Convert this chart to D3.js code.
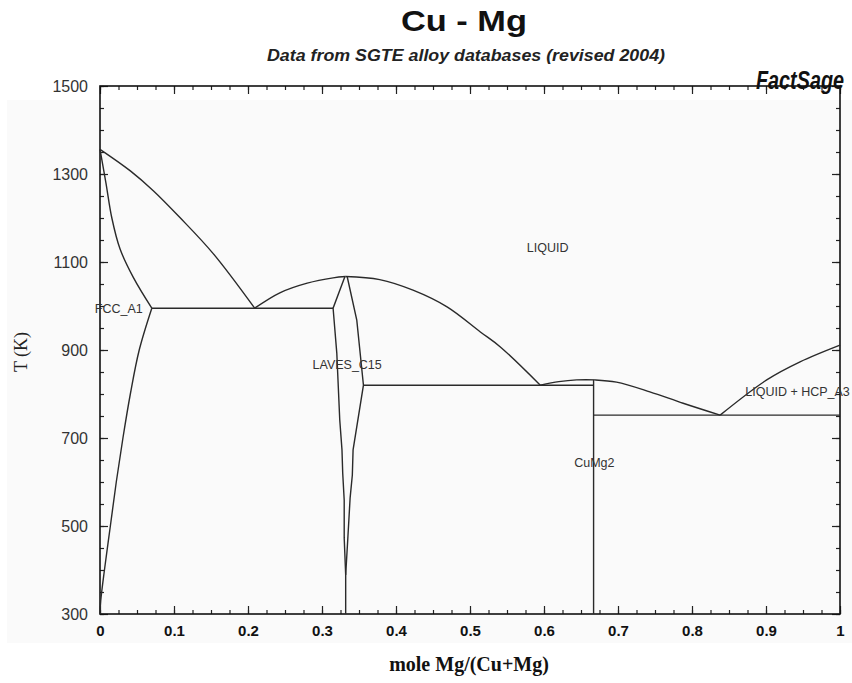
<!DOCTYPE html>
<html>
<head>
<meta charset="utf-8">
<script src="https://cdn.jsdelivr.net/npm/d3@7"></script>
<style>
  body { margin: 0; background: #fff; }
  svg { display: block; }
</style>
</head>
<body>
<div id="chart"></div>
<script>
// Cu-Mg phase diagram (FactSage / SGTE) — boundaries as [x Mg, T K] pairs.

const cuLiquidus    = [[0, 1356], [0.041, 1307], [0.072, 1262], [0.108, 1201], [0.153, 1119], [0.209, 995]];
const fccSolidus    = [[0, 1356], [0.008, 1280], [0.016, 1200], [0.027, 1130], [0.045, 1065], [0.070, 995]];
const fccSolvus     = [[0.070, 995], [0.053, 900], [0.041, 800], [0.031, 700], [0.022, 600], [0.014, 500], [0.006, 400], [0.001, 330], [0, 300]];
const lavesLiqLeft  = [[0.209, 995], [0.243, 1030], [0.280, 1052], [0.315, 1064], [0.332, 1067]];
const lavesLiqRight = [[0.332, 1067], [0.378, 1060], [0.423, 1036], [0.469, 998], [0.514, 941], [0.541, 907], [0.595, 820]];
const lavesLeft     = [[0.331, 1067], [0.315, 995], [0.320, 893], [0.324, 741], [0.327, 673], [0.328, 620], [0.330, 559], [0.330, 473], [0.332, 389], [0.332, 300]];
const lavesRight    = [[0.334, 1067], [0.347, 968], [0.356, 820], [0.342, 673], [0.341, 616], [0.338, 564], [0.335, 475], [0.332, 389]];
const cuMg2Liquidus = [[0.595, 820], [0.620, 828], [0.644, 832], [0.669, 832], [0.698, 827], [0.743, 805], [0.788, 779], [0.838, 752]];
const mgLiquidus    = [[0.838, 752], [0.901, 832], [0.946, 873], [1, 911]];
const cuMg2Line     = [[0.667, 832], [0.667, 300]];
const eutectic1     = [[0.070, 995], [0.315, 995]];
const eutectic2     = [[0.356, 820], [0.667, 820]];
const eutectic3     = [[0.667, 752], [1, 752]];

const curves   = [cuLiquidus, fccSolidus, fccSolvus, lavesLiqLeft, lavesLiqRight, cuMg2Liquidus, mgLiquidus];
const straight = [lavesLeft, lavesRight, cuMg2Line, eutectic1, eutectic2, eutectic3];

const phaseLabels = [
  { text: 'LIQUID',          x: 0.605,  T: 1132, anchor: 'middle' },
  { text: 'FCC_A1',          x: -0.007, T: 993,  anchor: 'start' },
  { text: 'LAVES_C15',       x: 0.334,  T: 866,  anchor: 'middle' },
  { text: 'LIQUID + HCP_A3', x: 0.872,  T: 805,  anchor: 'start' },
  { text: 'CuMg2',           x: 0.668,  T: 643,  anchor: 'middle' }
];

const xTicks = [0, 0.1, 0.2, 0.3, 0.4, 0.5, 0.6, 0.7, 0.8, 0.9, 1];
const xTickLabels = ['0', '0.1', '0.2', '0.3', '0.4', '0.5', '0.6', '0.7', '0.8', '0.9', '1'];
const yTicks = [300, 500, 700, 900, 1100, 1300, 1500];

const W = 852, H = 683;
const m = { top: 86, right: 12, bottom: 69, left: 100 };

const svg = d3.select('#chart').append('svg').attr('width', W).attr('height', H);

// faint grey cast of the scanned page
svg.append('rect').attr('x', 7).attr('y', 100).attr('width', W - 7).attr('height', 543).attr('fill', '#fafafa');

const x = d3.scaleLinear().domain([0, 1]).range([m.left, W - m.right]);
const y = d3.scaleLinear().domain([300, 1500]).range([H - m.bottom, m.top]);

const xMinor = d3.range(0, 1.0001, 0.025);
const yMinor = d3.range(300, 1501, 50);

function styleAxis(g) {
  g.select('.domain').remove();
  g.selectAll('line').attr('stroke', '#222').attr('stroke-width', 1.2);
}

// minor ticks on all four sides
[[d3.axisBottom(x), `translate(0,${y(300)})`, xMinor],
 [d3.axisTop(x), `translate(0,${y(1500)})`, xMinor],
 [d3.axisLeft(y), `translate(${x(0)},0)`, yMinor],
 [d3.axisRight(y), `translate(${x(1)},0)`, yMinor]].forEach(([ax, tr, vals]) => {
  svg.append('g').attr('transform', tr)
    .call(ax.tickValues(vals).tickSize(-4).tickFormat(''))
    .call(styleAxis);
});

// major ticks + labels
svg.append('g').attr('transform', `translate(0,${y(300)})`)
  .call(d3.axisBottom(x).tickValues(xTicks).tickSize(-8).tickPadding(11).tickFormat((d, i) => xTickLabels[i]))
  .call(styleAxis)
  .call(g => g.selectAll('text').attr('font-family', 'Liberation Sans, Arial, sans-serif')
    .attr('font-size', 15).attr('font-weight', 'bold').attr('fill', '#111'));

svg.append('g').attr('transform', `translate(0,${y(1500)})`)
  .call(d3.axisTop(x).tickValues(xTicks).tickSize(-8).tickFormat(''))
  .call(styleAxis);

svg.append('g').attr('transform', `translate(${x(0)},0)`)
  .call(d3.axisLeft(y).tickValues(yTicks).tickSize(-8).tickPadding(12).tickFormat(d3.format('d')))
  .call(styleAxis)
  .call(g => g.selectAll('text').attr('font-family', 'Liberation Sans, Arial, sans-serif')
    .attr('font-size', 16).attr('fill', '#333'));

svg.append('g').attr('transform', `translate(${x(1)},0)`)
  .call(d3.axisRight(y).tickValues(yTicks).tickSize(-8).tickFormat(''))
  .call(styleAxis);

// frame
svg.append('rect')
  .attr('x', x(0)).attr('y', y(1500))
  .attr('width', x(1) - x(0)).attr('height', y(300) - y(1500))
  .attr('fill', 'none').attr('stroke', '#111').attr('stroke-width', 1.6);

// phase boundaries
const lineCurve = d3.line().x(d => x(d[0])).y(d => y(d[1])).curve(d3.curveCatmullRom.alpha(0.5));
const lineStraight = d3.line().x(d => x(d[0])).y(d => y(d[1]));

svg.append('g').selectAll('path').data(curves).enter().append('path')
  .attr('d', lineCurve).attr('fill', 'none').attr('stroke', '#2a2a2a').attr('stroke-width', 1.4);

svg.append('g').selectAll('path').data(straight).enter().append('path')
  .attr('d', lineStraight).attr('fill', 'none').attr('stroke', '#2a2a2a').attr('stroke-width', 1.4);

// phase labels
svg.append('g').selectAll('text').data(phaseLabels).enter().append('text')
  .attr('x', d => x(d.x)).attr('y', d => y(d.T))
  .attr('dy', '0.35em')
  .attr('text-anchor', d => d.anchor)
  .attr('font-family', 'Liberation Sans, Arial, sans-serif')
  .attr('font-size', 12.5).attr('fill', '#333')
  .text(d => d.text);

// titles
svg.append('text').attr('x', 464).attr('y', 31).attr('text-anchor', 'middle')
  .attr('font-family', 'Liberation Sans, Arial, sans-serif')
  .attr('font-size', 30).attr('font-weight', 'bold').attr('fill', '#111')
  .attr('textLength', 126).attr('lengthAdjust', 'spacingAndGlyphs')
  .text('Cu - Mg');

svg.append('text').attr('x', 466).attr('y', 61).attr('text-anchor', 'middle')
  .attr('font-family', 'Liberation Sans, Arial, sans-serif')
  .attr('font-size', 16).attr('font-style', 'italic').attr('font-weight', 'bold').attr('fill', '#222')
  .attr('textLength', 398).attr('lengthAdjust', 'spacingAndGlyphs')
  .text('Data from SGTE alloy databases (revised 2004)');

svg.append('text').attr('x', 844).attr('y', 89).attr('text-anchor', 'end')
  .attr('font-family', 'Liberation Sans, Arial, sans-serif')
  .attr('font-size', 25).attr('font-style', 'italic').attr('font-weight', 'bold').attr('fill', '#111')
  .attr('textLength', 88).attr('lengthAdjust', 'spacingAndGlyphs')
  .text('FactSage');

svg.append('text').attr('x', 469).attr('y', 671).attr('text-anchor', 'middle')
  .attr('font-family', 'Liberation Serif, Times New Roman, serif')
  .attr('font-size', 20).attr('font-weight', 'bold').attr('fill', '#111')
  .text('mole Mg/(Cu+Mg)');

svg.append('text').attr('transform', 'translate(27,352) rotate(-90)').attr('text-anchor', 'middle')
  .attr('font-family', 'Liberation Serif, Times New Roman, serif')
  .attr('font-size', 18).attr('fill', '#222')
  .text('T (K)');
</script>
</body>
</html>
